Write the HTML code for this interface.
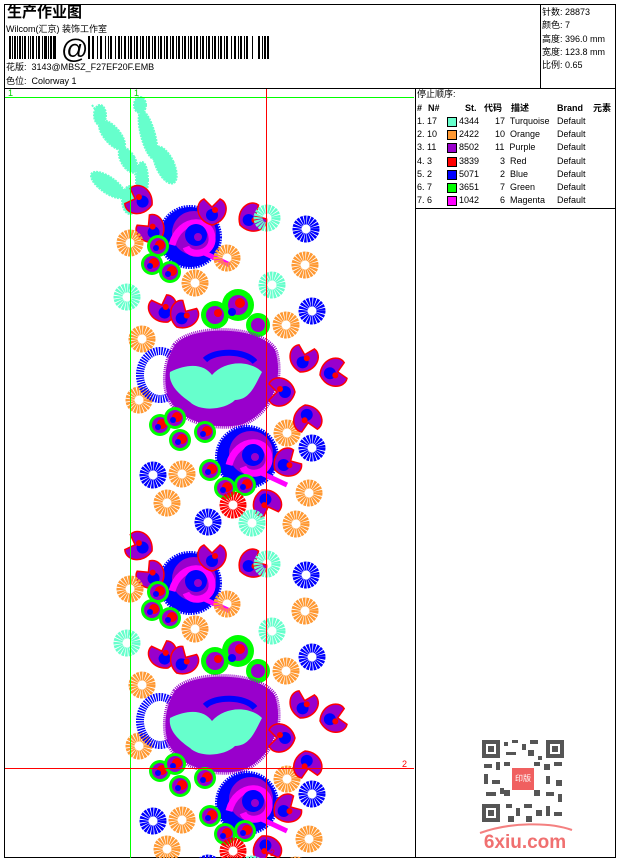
<!DOCTYPE html>
<html><head><meta charset="utf-8"><style>
html,body{margin:0;padding:0;background:#fff;}
body{width:620px;height:860px;position:relative;overflow:hidden;font-family:"Liberation Sans","Noto Sans CJK SC",sans-serif;color:#000;}
.t{position:absolute;white-space:nowrap;font-size:9px;line-height:11px;}
#rows span,#hdr span{white-space:nowrap;}
</style></head><body>
<svg width="620" height="860" style="position:absolute;left:0;top:0" xmlns="http://www.w3.org/2000/svg">
<defs>
<g id="ro"><circle r="9" fill="none" stroke="#ff9933" stroke-width="9" stroke-dasharray="2 0.7"/></g>
<g id="rb"><circle r="9" fill="none" stroke="#0000ff" stroke-width="9" stroke-dasharray="2 0.7"/></g>
<g id="rt"><circle r="9" fill="none" stroke="#66ffcc" stroke-width="9" stroke-dasharray="2 0.7"/></g>
<g id="rr"><circle r="9" fill="none" stroke="#ff0000" stroke-width="9" stroke-dasharray="2 0.7"/></g>
<g id="leafP"><path d="M0,0 C-16,-4 -18,-22 -8,-26 L0,-18 L8,-26 C18,-22 16,-4 0,0Z" fill="#9900cc" stroke="#ff0000" stroke-width="1.5"/><circle cx="0" cy="-10" r="6" fill="#0000ff"/><circle cx="3" cy="-15" r="3" fill="#ff0000"/></g>
<g id="leafG"><circle r="11" fill="#00ff00"/><circle r="8" fill="#9900cc"/><circle cx="2" cy="-1" r="5" fill="#ff0000"/><circle cx="-2" cy="2" r="3" fill="#0000ff"/></g>
<g id="rose"><circle r="30" fill="#0000ff" stroke="#0000ff" stroke-width="4" stroke-dasharray="1.5 1"/><circle cx="4" cy="-4" r="22" fill="#9900cc"/><path d="M-18,8 C-10,-22 24,-20 22,4 C20,18 0,20 -4,10" fill="none" stroke="#ff00ff" stroke-width="7"/><circle cx="6" cy="-2" r="11" fill="#0000ff"/><circle cx="8" cy="0" r="4" fill="#9900cc"/><path d="M10,14 L40,28" stroke="#ff00ff" stroke-width="5"/></g>
<g id="sec">
 <use href="#rose" x="190" y="237"/>
 <use href="#leafP" x="212" y="225"/><use href="#leafP" x="160" y="240" transform="rotate(-40 160 240)"/>
 <g transform="translate(240,225) rotate(60)"><use href="#leafP"/></g>
 <g transform="translate(152,205) rotate(-70)"><use href="#leafP"/></g>
 <use href="#leafG" x="158" y="246"/><use href="#leafG" x="152" y="264"/><use href="#leafG" x="170" y="272"/>
 <use href="#ro" x="130" y="243"/><use href="#ro" x="227" y="258"/><use href="#ro" x="195" y="283"/><use href="#ro" x="305" y="265"/>
 <use href="#ro" x="142" y="339"/><use href="#ro" x="286" y="325"/><use href="#ro" x="139" y="400"/><use href="#ro" x="287" y="433"/>
 <use href="#rt" x="267" y="218"/><use href="#rt" x="272" y="285"/><use href="#rt" x="127" y="297"/>
 <use href="#rb" x="306" y="229"/><use href="#rb" x="312" y="311"/><use href="#rb" x="312" y="448"/>
 <g transform="translate(168,322)"><use href="#leafP" transform="rotate(-20)"/><use href="#leafP" x="10" transform="rotate(30)"/></g>
 <g fill="#00ff00"><circle cx="215" cy="315" r="14"/><circle cx="238" cy="305" r="16"/><circle cx="258" cy="325" r="12"/></g>
 <g fill="#9900cc"><circle cx="215" cy="315" r="9"/><circle cx="238" cy="305" r="10"/><circle cx="258" cy="325" r="7"/></g>
 <g fill="#ff0000"><circle cx="218" cy="313" r="4"/><circle cx="240" cy="303" r="5"/></g><circle cx="232" cy="312" r="4" fill="#0000ff"/>
 <ellipse cx="160" cy="375" rx="20" ry="24" fill="none" stroke="#0000ff" stroke-width="8" stroke-dasharray="1.5 1"/>
 <path d="M175,345 C190,325 260,325 275,350 C285,380 270,415 240,425 C210,430 180,420 170,400 C162,385 165,360 175,345Z" fill="#9900cc" stroke="#9900cc" stroke-width="5" stroke-dasharray="1 1"/>
 <path d="M170,372 C190,362 205,365 212,375 C225,360 250,360 262,372 C255,385 250,400 235,400 C225,410 200,412 190,402 C180,395 168,385 170,372Z" fill="#66ffcc"/>
 <path d="M205,360 C215,350 245,350 255,362" fill="none" stroke="#0000ff" stroke-width="6"/>
 <g transform="translate(300,372) rotate(15)"><use href="#leafP"/></g><g transform="translate(320,375) rotate(80)"><use href="#leafP"/></g>
 <g transform="translate(295,392) rotate(-90)"><use href="#leafP"/></g><g transform="translate(305,405) rotate(170)"><use href="#leafP"/></g>
 <use href="#leafG" x="160" y="425"/><use href="#leafG" x="180" y="440"/><use href="#leafG" x="205" y="432"/><use href="#leafG" x="175" y="418"/>
 <use href="#rose" x="247" y="457"/>
 <use href="#leafG" x="210" y="470"/><use href="#leafG" x="225" y="488"/><use href="#leafG" x="245" y="485"/>
 <g transform="translate(275,470) rotate(60)"><use href="#leafP"/></g><g transform="translate(262,490) rotate(160)"><use href="#leafP"/></g>
 <use href="#rb" x="153" y="475"/><use href="#ro" x="182" y="474"/><use href="#ro" x="167" y="503"/><use href="#ro" x="309" y="493"/>
 <use href="#ro" x="296" y="524"/><use href="#rr" x="233" y="505"/><use href="#rb" x="208" y="522"/><use href="#rt" x="252" y="523"/>
</g>
<clipPath id="dc"><rect x="5" y="89" width="410" height="769"/></clipPath>
</defs>
<rect x="4.5" y="4.5" width="611" height="853" fill="none" stroke="#000"/>
<line x1="4" y1="88.5" x2="616" y2="88.5" stroke="#000"/>
<line x1="540.5" y1="4" x2="540.5" y2="88" stroke="#000"/>
<line x1="415.5" y1="88" x2="415.5" y2="858" stroke="#000"/>
<line x1="415" y1="208.5" x2="616" y2="208.5" stroke="#000"/>
<g fill="#000">
<rect x="9" y="36" width="2" height="23"/><rect x="12" y="36" width="1" height="23"/><rect x="14" y="36" width="2" height="23"/><rect x="17" y="36" width="1" height="23"/><rect x="19" y="36" width="2" height="23"/><rect x="22" y="36" width="1" height="23"/><rect x="24" y="36" width="2" height="23"/><rect x="28" y="36" width="1" height="23"/><rect x="30" y="36" width="1" height="23"/><rect x="32" y="36" width="2" height="23"/><rect x="36" y="36" width="1" height="23"/><rect x="38" y="36" width="2" height="23"/><rect x="42" y="36" width="1" height="23"/><rect x="44" y="36" width="3" height="23"/><rect x="48" y="36" width="1" height="23"/><rect x="50" y="36" width="2" height="23"/><rect x="53" y="36" width="3" height="23"/>
</g>
<text x="61" y="58" font-family="Liberation Sans" font-size="27">@</text>
<g fill="#000">
<rect x="88" y="36" width="2" height="23"/><rect x="92" y="36" width="2" height="23"/><rect x="97" y="36" width="1" height="23"/><rect x="100" y="36" width="2" height="23"/><rect x="105" y="36" width="1" height="23"/><rect x="108" y="36" width="1" height="23"/><rect x="110" y="36" width="2" height="23"/><rect x="115" y="36" width="1" height="23"/><rect x="118" y="36" width="2" height="23"/><rect x="121" y="36" width="1" height="23"/><rect x="124" y="36" width="2" height="23"/><rect x="128" y="36" width="1" height="23"/><rect x="130" y="36" width="2" height="23"/><rect x="134" y="36" width="1" height="23"/><rect x="136" y="36" width="2" height="23"/><rect x="140" y="36" width="1" height="23"/><rect x="142" y="36" width="2" height="23"/><rect x="146" y="36" width="1" height="23"/><rect x="148" y="36" width="2" height="23"/><rect x="152" y="36" width="1" height="23"/><rect x="154" y="36" width="2" height="23"/><rect x="158" y="36" width="1" height="23"/><rect x="160" y="36" width="2" height="23"/><rect x="164" y="36" width="1" height="23"/><rect x="166" y="36" width="2" height="23"/><rect x="170" y="36" width="1" height="23"/><rect x="172" y="36" width="2" height="23"/><rect x="176" y="36" width="1" height="23"/><rect x="178" y="36" width="2" height="23"/><rect x="182" y="36" width="1" height="23"/><rect x="184" y="36" width="2" height="23"/><rect x="188" y="36" width="1" height="23"/><rect x="190" y="36" width="2" height="23"/><rect x="194" y="36" width="1" height="23"/><rect x="196" y="36" width="2" height="23"/><rect x="200" y="36" width="1" height="23"/><rect x="202" y="36" width="2" height="23"/><rect x="206" y="36" width="1" height="23"/><rect x="208" y="36" width="2" height="23"/><rect x="212" y="36" width="1" height="23"/><rect x="214" y="36" width="2" height="23"/><rect x="218" y="36" width="1" height="23"/><rect x="220" y="36" width="2" height="23"/><rect x="224" y="36" width="1" height="23"/><rect x="226" y="36" width="2" height="23"/><rect x="231" y="36" width="1" height="23"/><rect x="234" y="36" width="2" height="23"/><rect x="238" y="36" width="1" height="23"/><rect x="240" y="36" width="2" height="23"/><rect x="244" y="36" width="1" height="23"/><rect x="246" y="36" width="2" height="23"/><rect x="252" y="36" width="1" height="23"/><rect x="258" y="36" width="2" height="23"/><rect x="262" y="36" width="1" height="23"/><rect x="264" y="36" width="2" height="23"/><rect x="267" y="36" width="2" height="23"/>
</g>
<g clip-path="url(#dc)">
 <g fill="#66ffcc" stroke="#66ffcc" stroke-width="2" stroke-dasharray="2 1">
  <path d="M92,105 C110,130 125,150 140,185" fill="none"/><ellipse cx="112" cy="135" rx="8" ry="18" transform="rotate(-40 112 135)"/>
  <ellipse cx="128" cy="160" rx="7" ry="14" transform="rotate(-30 128 160)"/><ellipse cx="100" cy="115" rx="6" ry="10"/>
  <ellipse cx="108" cy="185" rx="20" ry="8" transform="rotate(35 108 185)"/><ellipse cx="130" cy="200" rx="8" ry="14"/>
  <ellipse cx="148" cy="135" rx="7" ry="25" transform="rotate(-15 148 135)"/><ellipse cx="165" cy="165" rx="9" ry="20" transform="rotate(-25 165 165)"/>
  <ellipse cx="142" cy="180" rx="6" ry="18"/><ellipse cx="140" cy="105" rx="6" ry="8"/>
 </g>
 <use href="#sec"/>
 <use href="#sec" y="346"/>
</g>
<line x1="5" y1="97.5" x2="414" y2="97.5" stroke="#00ff00"/>
<line x1="130.5" y1="89" x2="130.5" y2="858" stroke="#00ff00"/>
<line x1="5" y1="768.5" x2="414" y2="768.5" stroke="#ff0000"/>
<line x1="266.5" y1="89" x2="266.5" y2="858" stroke="#ff0000"/>
<text x="8" y="96" font-size="9" fill="#00cc00" font-family="Liberation Sans">1</text>
<text x="134" y="96" font-size="9" fill="#00cc00" font-family="Liberation Sans">1</text>
<text x="402" y="767" font-size="9" fill="#ff0000" font-family="Liberation Sans">2</text>
<text x="270" y="856" font-size="9" fill="#ff0000" font-family="Liberation Sans">2</text>
<g fill="#555">
 <rect x="482" y="740" width="82" height="82" fill="#fff"/>
 <rect x="482" y="740" width="18" height="18"/><rect x="486" y="744" width="10" height="10" fill="#fff"/><rect x="488" y="746" width="6" height="6"/>
 <rect x="546" y="740" width="18" height="18"/><rect x="550" y="744" width="10" height="10" fill="#fff"/><rect x="552" y="746" width="6" height="6"/>
 <rect x="482" y="804" width="18" height="18"/><rect x="486" y="808" width="10" height="10" fill="#fff"/><rect x="488" y="810" width="6" height="6"/>
 <rect x="504" y="742" width="4" height="4"/><rect x="512" y="740" width="6" height="3"/><rect x="522" y="744" width="4" height="6"/><rect x="530" y="740" width="8" height="4"/><rect x="506" y="752" width="10" height="3"/><rect x="528" y="750" width="6" height="6"/><rect x="538" y="756" width="4" height="4"/>
 <rect x="484" y="764" width="8" height="4"/><rect x="496" y="762" width="4" height="8"/><rect x="484" y="774" width="4" height="10"/><rect x="492" y="780" width="8" height="4"/><rect x="486" y="792" width="10" height="4"/><rect x="500" y="788" width="4" height="6"/>
 <rect x="544" y="764" width="6" height="6"/><rect x="554" y="762" width="8" height="4"/><rect x="546" y="776" width="4" height="8"/><rect x="556" y="780" width="6" height="6"/><rect x="546" y="792" width="8" height="4"/><rect x="558" y="794" width="4" height="8"/>
 <rect x="506" y="804" width="6" height="4"/><rect x="516" y="808" width="4" height="8"/><rect x="524" y="804" width="8" height="4"/><rect x="536" y="810" width="6" height="6"/><rect x="546" y="806" width="4" height="10"/><rect x="554" y="812" width="8" height="4"/><rect x="508" y="816" width="6" height="6"/><rect x="526" y="816" width="6" height="6"/>
 <rect x="504" y="762" width="6" height="4"/><rect x="534" y="762" width="6" height="4"/><rect x="504" y="790" width="6" height="6"/><rect x="534" y="790" width="6" height="6"/>
 <rect x="512" y="768" width="22" height="22" fill="#f06060"/>
</g>
<text x="523" y="781" font-size="8" fill="#fff" text-anchor="middle" font-family="Noto Sans CJK SC">印版</text>
<path d="M480,833 C510,822 550,822 572,830" fill="none" stroke="#f48080" stroke-width="2"/>
<text x="525" y="848" font-size="19" font-weight="bold" fill="#f07070" text-anchor="middle" font-family="Liberation Sans">6xiu.com</text>
</svg>
<div class="t" style="left:7px;top:4px;font-size:15px;line-height:18px;font-weight:bold;">生产作业图</div>
<div class="t" style="left:6px;top:24px;">Wilcom(汇京) 装饰工作室</div>
<div class="t" style="left:6px;top:62px;">花版:&nbsp; 3143@MBSZ_F27EF20F.EMB</div>
<div class="t" style="left:6px;top:76px;">色位:&nbsp; Colorway 1</div>
<div class="t" style="left:542px;top:6px;line-height:13.3px;">针数: 28873<br>颜色: 7<br>高度: 396.0 mm<br>宽度: 123.8 mm<br>比例: 0.65</div>
<div class="t" style="left:417px;top:89px;">停止顺序:</div>
<div id="hdr" style="position:absolute;left:417px;top:102px;width:198px;font-size:9px;line-height:13.2px;">
<div style="position:relative;height:13px;font-weight:bold;text-decoration:underline;"><span style="position:absolute;left:0">#</span><span style="position:absolute;left:11px">N#</span><span style="position:absolute;left:48px">St.</span><span style="position:absolute;left:67px">代码</span><span style="position:absolute;left:94px">描述</span><span style="position:absolute;left:140px">Brand</span><span style="position:absolute;left:176px">元素</span></div>
</div>
<div id="rows" style="position:absolute;left:417px;top:115px;width:198px;font-size:9px;line-height:13.2px;">
<div style="position:relative;height:13.2px"><span style="position:absolute;left:0">1. 17</span><span style="position:absolute;left:30px;top:2px;width:8px;height:8px;background:#66ffcc;border:1px solid #000"></span><span style="position:absolute;left:42px">4344</span><span style="position:absolute;left:78px">17&nbsp; Turquoise</span><span style="position:absolute;left:140px">Default</span></div>
<div style="position:relative;height:13.2px"><span style="position:absolute;left:0">2. 10</span><span style="position:absolute;left:30px;top:2px;width:8px;height:8px;background:#ff9933;border:1px solid #000"></span><span style="position:absolute;left:42px">2422</span><span style="position:absolute;left:78px">10&nbsp; Orange</span><span style="position:absolute;left:140px">Default</span></div>
<div style="position:relative;height:13.2px"><span style="position:absolute;left:0">3. 11</span><span style="position:absolute;left:30px;top:2px;width:8px;height:8px;background:#9900cc;border:1px solid #000"></span><span style="position:absolute;left:42px">8502</span><span style="position:absolute;left:78px">11&nbsp; Purple</span><span style="position:absolute;left:140px">Default</span></div>
<div style="position:relative;height:13.2px"><span style="position:absolute;left:0">4. 3</span><span style="position:absolute;left:30px;top:2px;width:8px;height:8px;background:#ff0000;border:1px solid #000"></span><span style="position:absolute;left:42px">3839</span><span style="position:absolute;left:83px">3&nbsp; Red</span><span style="position:absolute;left:140px">Default</span></div>
<div style="position:relative;height:13.2px"><span style="position:absolute;left:0">5. 2</span><span style="position:absolute;left:30px;top:2px;width:8px;height:8px;background:#0000ff;border:1px solid #000"></span><span style="position:absolute;left:42px">5071</span><span style="position:absolute;left:83px">2&nbsp; Blue</span><span style="position:absolute;left:140px">Default</span></div>
<div style="position:relative;height:13.2px"><span style="position:absolute;left:0">6. 7</span><span style="position:absolute;left:30px;top:2px;width:8px;height:8px;background:#00ff00;border:1px solid #000"></span><span style="position:absolute;left:42px">3651</span><span style="position:absolute;left:83px">7&nbsp; Green</span><span style="position:absolute;left:140px">Default</span></div>
<div style="position:relative;height:13.2px"><span style="position:absolute;left:0">7. 6</span><span style="position:absolute;left:30px;top:2px;width:8px;height:8px;background:#ff00ff;border:1px solid #000"></span><span style="position:absolute;left:42px">1042</span><span style="position:absolute;left:83px">6&nbsp; Magenta</span><span style="position:absolute;left:140px">Default</span></div>
</div>
</body></html>
